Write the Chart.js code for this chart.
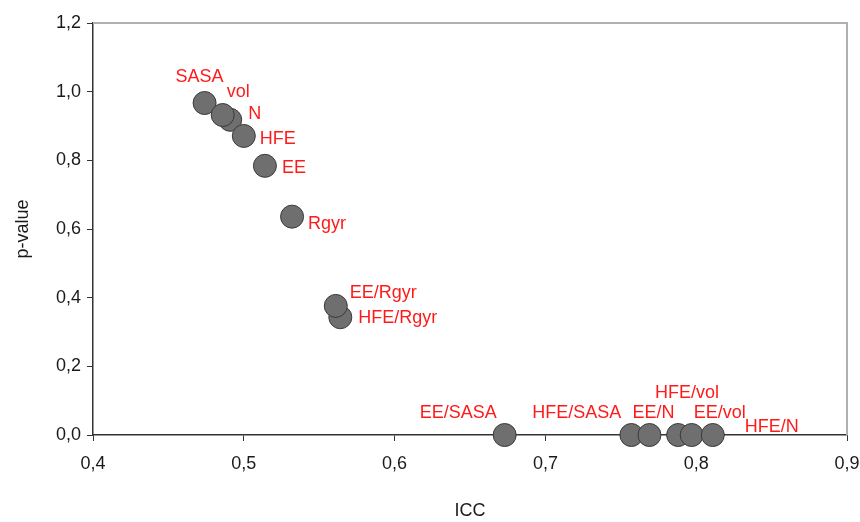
<!DOCTYPE html>
<html lang="en">
<head>
    <meta charset="UTF-8">
    <title>ICC vs p-value</title>
    <script src="https://cdn.jsdelivr.net/npm/chart.js"></script>
    <style>
        body {
            margin: 0;
            padding: 0;
            background-color: white;
        }
        .chart-container {
            width: 860px;
            height: 522px;
        }
    </style>
</head>
<body>
    <div class="chart-container">
        <canvas id="iccChart"></canvas>
    </div>

    <script>
        // Data (order = drawing order, later points on top)
        const pointLabels = ['SASA', 'N', 'vol', 'HFE', 'EE', 'Rgyr', 'HFE/Rgyr', 'EE/Rgyr',
                             'EE/SASA', 'HFE/SASA', 'EE/N', 'HFE/vol', 'EE/vol', 'HFE/N'];
        const iccValues = [0.474, 0.491, 0.486, 0.500, 0.514, 0.532, 0.564, 0.561,
                           0.673, 0.757, 0.769, 0.788, 0.797, 0.811];
        const pValues = [0.967, 0.918, 0.932, 0.871, 0.784, 0.636, 0.343, 0.376,
                         0, 0, 0, 0, 0, 0];
        const xTicks = [0.4, 0.5, 0.6, 0.7, 0.8, 0.9];
        const yTicks = [0.0, 0.2, 0.4, 0.6, 0.8, 1.0, 1.2];

        // label placement relative to each point (px): left edge / vertical middle of text
        const labelDx = [-29, 18, 4, 16, 17, 16, 18, 14, -85, -99, -17, -23, 2, 32];
        const labelDy = [-26, -6, -23, 3, 2, 7, 1, -13, -22, -22, -22, -42, -22, -8];

        const FONT = 'Liberation Sans, Arial, Helvetica, sans-serif';
        const fmt = (v) => v.toFixed(1).replace('.', ',');

        const pointLabelPlugin = {
            id: 'pointLabels',
            afterDatasetsDraw(chart) {
                const ctx = chart.ctx;
                const meta = chart.getDatasetMeta(0);
                ctx.save();
                ctx.font = '18px ' + FONT;
                ctx.fillStyle = '#ff1a1a';
                ctx.textAlign = 'left';
                ctx.textBaseline = 'middle';
                meta.data.forEach((pt, i) => {
                    ctx.fillText(pointLabels[i], pt.x + labelDx[i], pt.y + labelDy[i]);
                });
                ctx.restore();
            }
        };

        // grey top/right frame of the plot box
        const framePlugin = {
            id: 'frame',
            beforeDatasetsDraw(chart) {
                const { ctx, chartArea: a } = chart;
                ctx.save();
                ctx.strokeStyle = '#b0b0b0';
                ctx.lineWidth = 2;
                ctx.beginPath();
                ctx.moveTo(a.left, a.top);
                ctx.lineTo(a.right, a.top);
                ctx.lineTo(a.right, a.bottom);
                ctx.stroke();
                ctx.restore();
            }
        };

        const ctx = document.getElementById('iccChart').getContext('2d');

        new Chart(ctx, {
            type: 'scatter',
            data: {
                datasets: [{
                    data: iccValues.map((x, i) => ({ x: x, y: pValues[i] })),
                    backgroundColor: '#6f6f6f',
                    borderColor: '#3a3a3a',
                    borderWidth: 1,
                    pointRadius: 11.5,
                    pointHoverRadius: 11.5,
                    clip: false
                }]
            },
            options: {
                responsive: true,
                maintainAspectRatio: false,
                animation: false,
                layout: { padding: { top: 23, right: 13, left: 0, bottom: 0 } },
                scales: {
                    x: {
                        type: 'linear',
                        min: 0.4,
                        max: 0.9,
                        afterFit: (scale) => {
                            scale.height = 87;
                            scale.paddingLeft = 0;
                            scale.paddingRight = 0;
                        },
                        afterBuildTicks: (scale) => { scale.ticks = xTicks.map(v => ({ value: v })); },
                        ticks: {
                            color: '#1a1a1a',
                            font: { family: FONT, size: 18 },
                            padding: 12,
                            callback: (v) => fmt(v)
                        },
                        grid: { drawOnChartArea: false, drawTicks: true, tickLength: 6, color: '#333' },
                        border: { color: '#333', width: 1.5 },
                        title: {
                            display: true,
                            text: 'ICC',
                            color: '#1a1a1a',
                            font: { family: FONT, size: 18 },
                            padding: { top: 0, bottom: 0 }
                        }
                    },
                    y: {
                        type: 'linear',
                        min: 0,
                        max: 1.2,
                        afterFit: (scale) => {
                            scale.width = 93;
                            scale.paddingTop = 0;
                            scale.paddingBottom = 0;
                        },
                        afterBuildTicks: (scale) => { scale.ticks = yTicks.map(v => ({ value: v })); },
                        ticks: {
                            color: '#1a1a1a',
                            font: { family: FONT, size: 18 },
                            padding: 6,
                            callback: (v) => fmt(v)
                        },
                        grid: { drawOnChartArea: false, drawTicks: true, tickLength: 6, color: '#333' },
                        border: { color: '#333', width: 1.5 },
                        title: {
                            display: true,
                            text: 'p-value',
                            color: '#1a1a1a',
                            font: { family: FONT, size: 18 },
                            padding: { top: 12, bottom: 0 }
                        }
                    }
                },
                plugins: {
                    legend: { display: false },
                    tooltip: { enabled: false }
                }
            },
            plugins: [framePlugin, pointLabelPlugin]
        });
    </script>
</body>
</html>
